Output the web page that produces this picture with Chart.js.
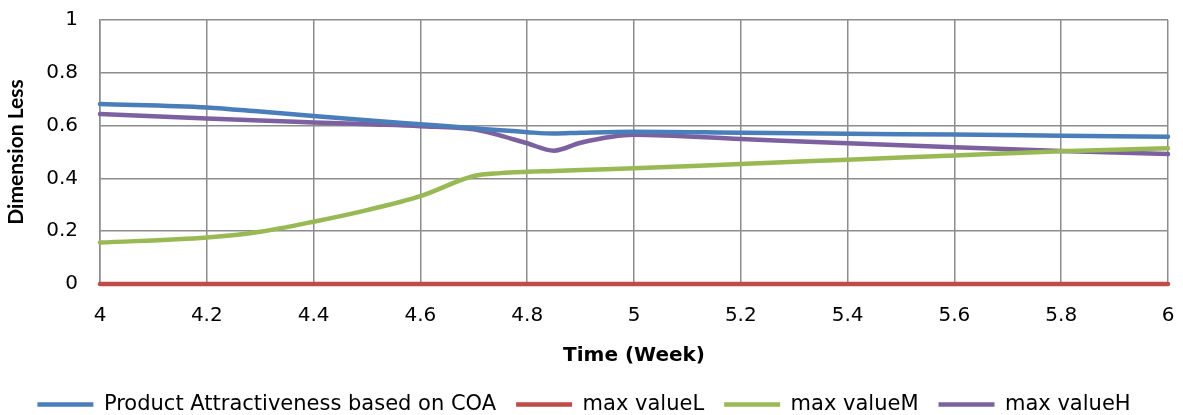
<!DOCTYPE html>
<html>
<head>
<meta charset="utf-8">
<script src="https://cdn.jsdelivr.net/npm/chart.js@4/dist/chart.umd.min.js"></script>
<style>
  html, body { margin: 0; padding: 0; background: #fff; }
  #chart { display: block; }
</style>
</head>
<body>
<canvas id="chart" width="1183" height="415"></canvas>
<script>
// Time axis (weeks) shared by every series
const weeks = [4, 4.2, 4.3, 4.4, 4.5, 4.6, 4.7, 4.75, 4.8, 4.85, 4.9, 5, 5.2, 5.4, 5.6, 5.8, 6];

// Series values (dimensionless)
const productAttractiveness = [0.682, 0.669, 0.653, 0.636, 0.620, 0.605, 0.590, 0.582, 0.575, 0.570, 0.573, 0.577, 0.573, 0.569, 0.566, 0.562, 0.558];
const maxValueL = [0, 0, 0, 0, 0, 0, 0, 0, 0, 0, 0, 0, 0, 0, 0, 0, 0];
const maxValueM = [0.157, 0.176, 0.198, 0.236, 0.280, 0.333, 0.409, 0.420, 0.425, 0.428, 0.432, 0.438, 0.455, 0.471, 0.487, 0.503, 0.514];
const maxValueH = [0.644, 0.627, 0.619, 0.612, 0.605, 0.598, 0.586, 0.562, 0.533, 0.505, 0.535, 0.565, 0.549, 0.533, 0.518, 0.504, 0.492];

const seriesNames = ['Product Attractiveness based on COA', 'max valueL', 'max valueM', 'max valueH'];
const seriesColors = ['#4A7EBB', '#BE4B48', '#98B954', '#7D60A0'];
const seriesValues = [productAttractiveness, maxValueL, maxValueM, maxValueH];

const GRID = '#8c8c8c';

// Tick text without trailing zeros: 4, 4.2, ... 6 and 0, 0.2, ... 1
const tickText = (v) => String(Number(v.toFixed(1)));

const datasets = seriesValues.map((vals, i) => ({
  label: seriesNames[i],
  data: weeks.map((w, k) => ({ x: w, y: vals[k] })),
  borderColor: seriesColors[i],
  backgroundColor: seriesColors[i],
  borderWidth: 4.5,
  borderCapStyle: 'round',
  pointRadius: 0,
  pointHoverRadius: 0,
  cubicInterpolationMode: 'monotone',
  clip: false
}));

new Chart(document.getElementById('chart'), {
  type: 'line',
  data: { datasets },
  options: {
    responsive: false,
    animation: false,
    events: [],
    layout: { padding: { top: 20, right: 15, left: 0, bottom: -10 } },
    plugins: {
      tooltip: { enabled: false },
      legend: {
        position: 'bottom',
        labels: {
          usePointStyle: true,
          pointStyle: 'line',
          pointStyleWidth: 56,
          color: '#000',
          padding: 20,
          font: { family: 'DejaVu Sans', size: 21 }
        }
      }
    },
    scales: {
      x: {
        type: 'linear',
        min: 4,
        max: 6,
        afterFit: (s) => { s.height = 90; s.paddingLeft = 0; s.paddingRight = 0; },
        ticks: {
          stepSize: 0.2,
          color: '#000',
          padding: 20,
          maxRotation: 0,
          callback: tickText,
          font: { family: 'DejaVu Sans', size: 20 }
        },
        grid: { color: GRID, lineWidth: 1.5, drawTicks: false },
        border: { color: GRID, width: 1.5 },
        title: {
          display: true,
          text: 'Time (Week)',
          color: '#000',
          font: { family: 'DejaVu Sans', size: 20, weight: 'bold' },
          padding: { top: 4, bottom: 6 }
        }
      },
      y: {
        min: 0,
        max: 1,
        afterFit: (s) => { s.width = 100; s.paddingTop = 0; s.paddingBottom = 0; },
        ticks: {
          stepSize: 0.2,
          color: '#000',
          padding: 22,
          callback: tickText,
          font: { family: 'DejaVu Sans', size: 20 }
        },
        grid: { color: GRID, lineWidth: 1.5, drawTicks: false },
        border: { color: GRID, width: 1.5 },
        title: {
          display: true,
          text: 'Dimension Less',
          color: '#000',
          font: { family: 'Lato', size: 21, weight: 'bold' },
          padding: { top: 4, bottom: 4 }
        }
      }
    }
  }
});
</script>
</body>
</html>
